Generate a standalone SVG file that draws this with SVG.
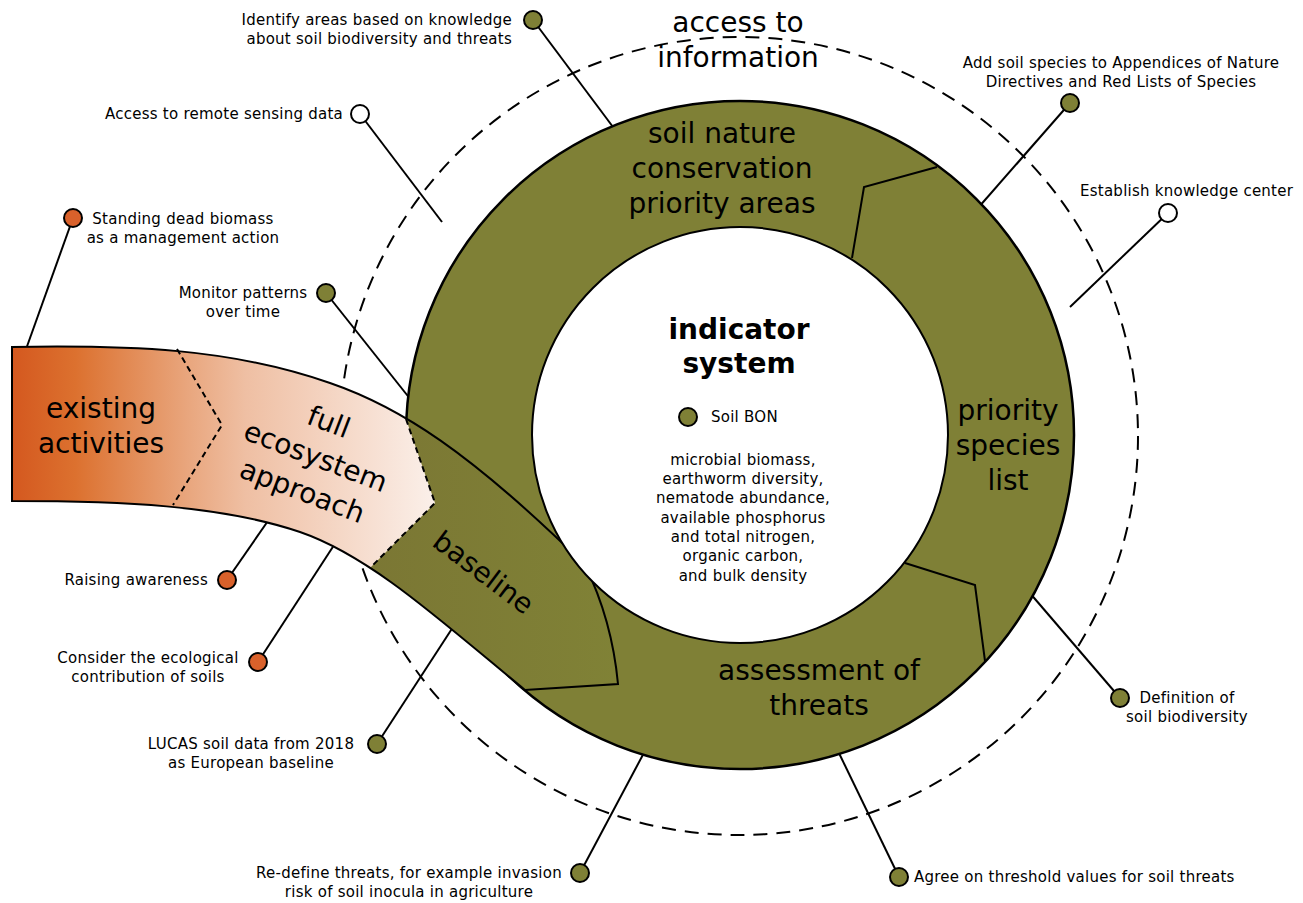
<svg xmlns="http://www.w3.org/2000/svg" width="1303" height="903" viewBox="0 0 1303 903">
  <style>
    text { font-family: "DejaVu Sans", Verdana, sans-serif; fill: #000; }
    .sm { font-size: 15px; letter-spacing: 0.25px; }
    .big { font-size: 28px; }
    .bold { font-size: 28px; font-weight: bold; }
    .mid { text-anchor: middle; }
    .end { text-anchor: end; }
    .conn { stroke: #000; stroke-width: 2; fill: none; }
    .dot { stroke: #000; stroke-width: 2; }
    .olive { fill: #7f8036; }
    .orange { fill: #d9612b; }
    .open { fill: #fff; }
    .edge { stroke: #000; stroke-width: 2; fill: none; stroke-linejoin: miter; }
    .chev { stroke: #000; stroke-width: 2; fill: none; stroke-dasharray: 6 4; }
  </style>
  <defs>
    <linearGradient id="bandGrad" gradientUnits="userSpaceOnUse" x1="12" y1="0" x2="436" y2="0">
      <stop offset="0" stop-color="#d4581f"/>
      <stop offset="0.15" stop-color="#dc712f"/>
      <stop offset="0.42" stop-color="#e9a77f"/>
      <stop offset="0.55" stop-color="#efbfa3"/>
      <stop offset="1" stop-color="#fbf0ea"/>
    </linearGradient>
    <linearGradient id="baseGrad" gradientUnits="userSpaceOnUse" x1="370" y1="0" x2="620" y2="0">
      <stop offset="0" stop-color="#7b7734"/>
      <stop offset="1" stop-color="#808236"/>
    </linearGradient>
    <clipPath id="baseClip">
      <path d="M406,300 L406,419 L435,503 L370,568 L370,900 L900,900 L900,300 Z"/>
    </clipPath>
    <path id="band" d="M12,347 C130,345 230,348 330,383 C400,407 470,452 585,565 Q612,620 618,684 L525,690 C440,620 370,556 300,532 C220,505 120,501 12,501 Z"/>
  </defs>

  <rect width="1303" height="903" fill="#fff"/>

  <!-- outer dashed boundary: access to information -->
  <circle id="access-ring" cx="739" cy="436" r="399" fill="none" stroke="#000" stroke-width="2" stroke-dasharray="14 9"/>

  <g id="connectors">
    <line class="conn" x1="533" y1="20" x2="616" y2="131"/>
    <line class="conn" x1="360" y1="114" x2="442" y2="222"/>
    <line class="conn" x1="73" y1="218" x2="25" y2="352"/>
    <line class="conn" x1="326" y1="293" x2="411" y2="400"/>
    <line class="conn" x1="227" y1="580" x2="270" y2="518"/>
    <line class="conn" x1="258" y1="662" x2="338" y2="539"/>
    <line class="conn" x1="377" y1="744" x2="455" y2="624"/>
    <line class="conn" x1="580" y1="873" x2="646" y2="749"/>
    <line class="conn" x1="899" y1="877" x2="837" y2="749"/>
    <line class="conn" x1="1120" y1="698" x2="1029" y2="592"/>
    <line class="conn" x1="1168" y1="213" x2="1070" y2="307"/>
    <line class="conn" x1="1070" y1="103" x2="978" y2="208"/>
  </g>

  <!-- olive ring -->
  <g id="ring">
    <circle cx="740" cy="435" r="334" fill="#7f8036" stroke="#000" stroke-width="2.5"/>
  </g>

  <!-- curved band: existing activities -> full ecosystem approach -> baseline -->
  <g id="band-arrow">
    <use href="#band" fill="url(#bandGrad)"/>
    <use href="#band" fill="url(#baseGrad)" clip-path="url(#baseClip)"/>
    <use href="#band" class="edge"/>
    <path class="chev" d="M177,349 L222,425 L173,505"/>
    <path class="chev" d="M406,419 L435,503 L370,568"/>
  </g>

  <!-- inner indicator circle -->
  <g id="indicator-system">
    <circle cx="740" cy="435" r="208" fill="#fff" stroke="#000" stroke-width="2"/>
    <text class="bold mid" x="739" y="339">indicator</text>
    <text class="bold mid" x="739" y="373">system</text>
  </g>

  <g id="ring-dividers">
    <polyline class="edge" points="937,167 864,187 852,258"/>
    <polyline class="edge" points="905,563 975,585 985,661"/>
  </g>

  <g id="segment-labels">
    <text class="big mid" x="101" y="418">existing</text>
    <text class="big mid" x="101" y="453">activities</text>
    <g transform="translate(315,458) rotate(21)">
      <text class="big mid" x="0" y="-29">full</text>
      <text class="big mid" x="0" y="8">ecosystem</text>
      <text class="big mid" x="0" y="45">approach</text>
    </g>
    <text class="big mid" transform="translate(483,573) rotate(37)" x="0" y="9">baseline</text>
    <text class="big mid" x="722" y="143">soil nature</text>
    <text class="big mid" x="722" y="178">conservation</text>
    <text class="big mid" x="722" y="213">priority areas</text>
    <text class="big mid" x="1008" y="420">priority</text>
    <text class="big mid" x="1008" y="455">species</text>
    <text class="big mid" x="1008" y="490">list</text>
    <text class="big mid" x="819" y="680">assessment of</text>
    <text class="big mid" x="819" y="715">threats</text>
    <text class="big mid" x="738" y="32">access to</text>
    <text class="big mid" x="738" y="67">information</text>
  </g>

  <g id="node-identify-areas">
    <circle class="dot olive" cx="533" cy="20" r="9"/>
    <text class="sm end" x="512" y="25">Identify areas based on knowledge</text>
    <text class="sm end" x="512" y="44">about soil biodiversity and threats</text>
  </g>
  <g id="node-remote-sensing">
    <circle class="dot open" cx="360" cy="114" r="9"/>
    <text class="sm end" x="343" y="119">Access to remote sensing data</text>
  </g>
  <g id="node-dead-biomass">
    <circle class="dot orange" cx="73" cy="218" r="9"/>
    <text class="sm mid" x="183" y="224">Standing dead biomass</text>
    <text class="sm mid" x="183" y="243">as a management action</text>
  </g>
  <g id="node-monitor-patterns">
    <circle class="dot olive" cx="326" cy="293" r="9"/>
    <text class="sm mid" x="243" y="298">Monitor patterns</text>
    <text class="sm mid" x="243" y="317">over time</text>
  </g>
  <g id="node-raising-awareness">
    <circle class="dot orange" cx="227" cy="580" r="9"/>
    <text class="sm end" x="208" y="585">Raising awareness</text>
  </g>
  <g id="node-ecological-contribution">
    <circle class="dot orange" cx="258" cy="662" r="9"/>
    <text class="sm mid" x="148" y="663">Consider the ecological</text>
    <text class="sm mid" x="148" y="682">contribution of soils</text>
  </g>
  <g id="node-lucas">
    <circle class="dot olive" cx="377" cy="744" r="9"/>
    <text class="sm mid" x="251" y="749">LUCAS soil data from 2018</text>
    <text class="sm mid" x="251" y="768">as European baseline</text>
  </g>
  <g id="node-redefine-threats">
    <circle class="dot olive" cx="580" cy="873" r="9"/>
    <text class="sm mid" x="409" y="878">Re-define threats, for example invasion</text>
    <text class="sm mid" x="409" y="897">risk of soil inocula in agriculture</text>
  </g>
  <g id="node-threshold-values">
    <circle class="dot olive" cx="899" cy="877" r="9"/>
    <text class="sm" x="914" y="882">Agree on threshold values for soil threats</text>
  </g>
  <g id="node-definition">
    <circle class="dot olive" cx="1120" cy="698" r="9"/>
    <text class="sm mid" x="1187" y="703">Definition of</text>
    <text class="sm mid" x="1187" y="722">soil biodiversity</text>
  </g>
  <g id="node-knowledge-center">
    <circle class="dot open" cx="1168" cy="213" r="9"/>
    <text class="sm" x="1080" y="196">Establish knowledge center</text>
  </g>
  <g id="node-appendices">
    <circle class="dot olive" cx="1070" cy="103" r="9"/>
    <text class="sm mid" x="1121" y="68">Add soil species to Appendices of Nature</text>
    <text class="sm mid" x="1121" y="87">Directives and Red Lists of Species</text>
  </g>
  <g id="node-soil-bon">
    <circle class="dot olive" cx="688" cy="417" r="9"/>
    <text class="sm" x="711" y="422">Soil BON</text>
  </g>
  <g id="indicator-list">
    <text class="sm mid" x="743" y="465">microbial biomass,</text>
    <text class="sm mid" x="743" y="484">earthworm diversity,</text>
    <text class="sm mid" x="743" y="503">nematode abundance,</text>
    <text class="sm mid" x="743" y="523">available phosphorus</text>
    <text class="sm mid" x="743" y="542">and total nitrogen,</text>
    <text class="sm mid" x="743" y="561">organic carbon,</text>
    <text class="sm mid" x="743" y="581">and bulk density</text>
  </g>
</svg>
